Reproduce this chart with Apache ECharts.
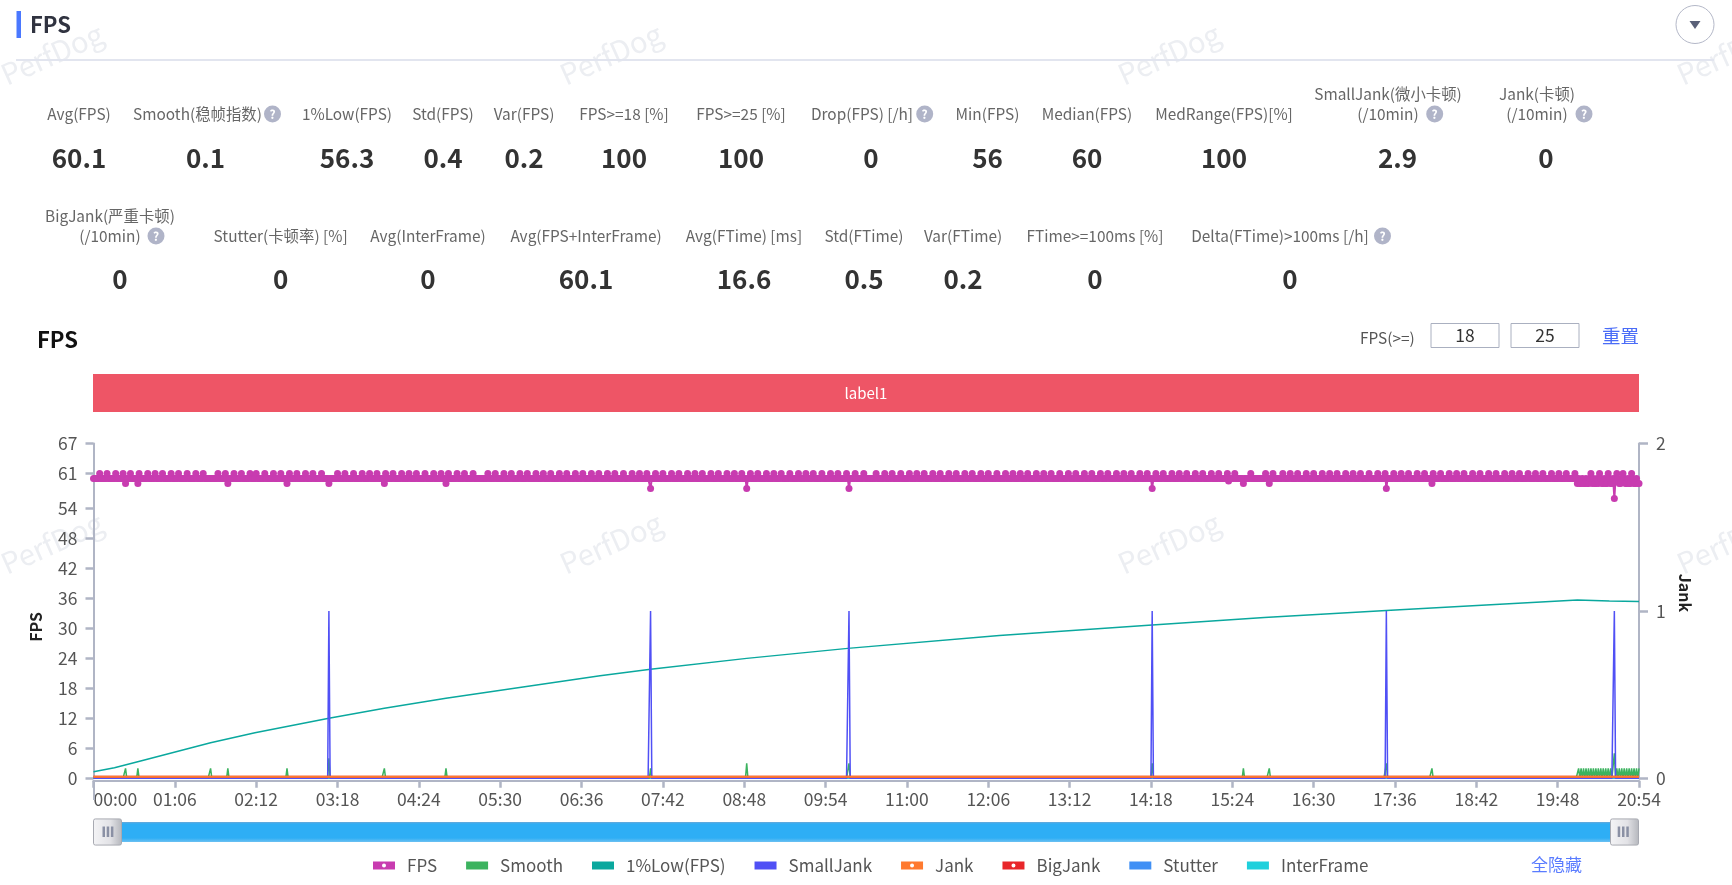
<!DOCTYPE html>
<html><head><meta charset="utf-8">
<script src="https://cdn.jsdelivr.net/npm/echarts@6/dist/echarts.min.js"></script>
<style>html,body{margin:0;padding:0;background:#fff}#c{width:1732px;height:885px}</style>
</head><body><div id="c"></div>
<script>
const FONT = '"Noto Sans CJK SC","Noto Sans",sans-serif';
// ---------- text and KPI values ----------
const kpiRow1Names = ['Avg(FPS)','Smooth(稳帧指数)','1%Low(FPS)','Std(FPS)','Var(FPS)','FPS>=18 [%]','FPS>=25 [%]','Drop(FPS) [/h]','Min(FPS)','Median(FPS)','MedRange(FPS)[%]','SmallJank(微小卡顿)\n(/10min)','Jank(卡顿)\n(/10min)'];
const kpiRow1Values = ['60.1','0.1','56.3','0.4','0.2','100','100','0','56','60','100','2.9','0'];
const kpiRow2Names = ['BigJank(严重卡顿)\n(/10min)','Stutter(卡顿率) [%]','Avg(InterFrame)','Avg(FPS+InterFrame)','Avg(FTime) [ms]','Std(FTime)','Var(FTime)','FTime>=100ms [%]','Delta(FTime)>100ms [/h]'];
const kpiRow2Values = ['0','0','0','60.1','16.6','0.5','0.2','0','0'];
const legendNames = ['FPS','Smooth','1%Low(FPS)','SmallJank','Jank','BigJank','Stutter','InterFrame'];
const xTickLabels = ['00:00','01:06','02:12','03:18','04:24','05:30','06:36','07:42','08:48','09:54','11:00','12:06','13:12','14:18','15:24','16:30','17:36','18:42','19:48','20:54'];
const fpsAxisTicks = [0,6,12,18,24,30,36,42,48,54,61,67];
const labelBarNames = ['label1'];
const labelBarValues = [1254];
// ---------- series values (x is seconds from start) ----------
const lastSecond = 1254;
const fpsTypical = 60;
const fpsPeakSeconds = [5,11,18,24,30,37,44,50,56,63,69,76,83,89,101,107,114,120,127,132,139,146,152,159,165,172,178,185,198,204,211,218,224,230,237,243,250,256,262,269,276,282,288,295,301,308,
 320,326,333,339,346,352,359,365,371,378,384,391,397,404,410,417,423,430,437,443,449,456,462,469,475,482,488,494,501,507,514,520,526,533,539,546,552,558,565,572,578,584,591,598,604,611,618,625,
 635,642,648,655,662,668,674,681,687,694,700,707,713,720,726,733,740,746,752,758,765,771,777,784,791,797,804,810,817,823,830,836,842,849,855,862,868,875,881,887,894,900,907,913,920,926,933,939,
 951,957,965,971,977,984,990,997,1003,1009,1016,1022,1028,1035,1042,1048,1055,1061,1067,1074,1080,1087,1093,1100,1106,1112,1119,1125,1132,1138,1145,1151,1157,1164,1170,1176,1183,1189,1195,1202,1215,1222,1229,1236,1241,1248];
const fpsDipSeconds = [26,36,109,157,191,236,286,452,530,613,859,921,933,954,1049,1086,1234];
const fpsDipValues  = [59,59,59,59,59,59,59,58,58,58,58,59.5,59,59,58,59,56];
const fpsTailLowSeconds = [1204,1206,1207,1209,1210,1212,1213,1216,1218,1219,1221,1224,1225,1227,1228,1231,1232,1238,1239,1243,1244,1246,1247,1250,1251,1253,1254];
const smoothSeconds = [26,36,95,109,157,191,236,286,452,530,613,859,933,954,1049,1086,1205,1207,1209,1211,1213,1215,1217,1219,1221,1223,1225,1227,1229,1231,1234,1236,1238,1240,1242,1244,1246,1248,1250,1252,1254];
const smoothValues  = [2,2,2,2,2,4,2,2,2,3,3,3,2,2,3,2,2,2,2,2,2,2,2,2,2,2,2,2,2,2,5,2,2,2,2,2,2,2,2,2,2];
const lowSeconds = [0,17,39,95,131,191,236,286,411,452,530,612,735,859,950,1049,1130,1204,1230,1254];
const lowValues  = [1.3,2.1,3.5,7.1,9.1,12.0,14.0,16.0,20.5,21.8,24.0,26.0,28.6,30.7,32.2,33.6,34.7,35.7,35.5,35.4];
const smallJankSeconds = [191,452,613,859,1049,1234];
const smallJankValues  = [1,1,1,1,1,1];
const jankSeconds = [0,1254];
const jankValues = [0.01,0.01];
const bigJankSeconds = [0,1254];
const bigJankValues = [0.01,0.01];
const stutterSeconds = [0,1254];
const stutterValues = [0,0];
const interFrameSeconds = [0,1254];
const interFrameValues = [0,0];

// ---------- tables the library needs ----------
const everySecond = Array.from({length:lastSecond+1},(_,i)=>i);
const fpsBySecond = new Map();
fpsTailLowSeconds.forEach(s=>fpsBySecond.set(s,59));
fpsPeakSeconds.forEach(s=>fpsBySecond.set(s,61));
fpsDipSeconds.forEach((s,i)=>fpsBySecond.set(s,fpsDipValues[i]));
const fpsData = everySecond.map(s=>[s,fpsBySecond.has(s)?fpsBySecond.get(s):fpsTypical]);
function spikes(secs,vals){const m=new Map(secs.map((s,i)=>[s,vals[i]]));return everySecond.map(s=>[s,m.get(s)||0]);}
const pairs=(a,b)=>a.map((s,i)=>[s,b[i]]);

// ---------- layout of the page furniture ----------
const row1LabelX=[79,197.5,347,443,524,624,741,862,987.5,1087,1224,1388,1537];
const row1ValueX=[79,205.5,347,443,524,624,741,871,987.5,1087,1224,1397.5,1546];
const row2LabelX=[110,280.6,428,586,744,864,963,1095,1280];
const row2ValueX=[120,280.6,428,586,744,864,963,1095,1290];
const helpDots=[[272.5,114],[924.7,114],[1434.7,114],[1584,114],[156,236],[1382.5,236]];
const g=[];
[52,611,1169,1728].forEach(x=>[54,543].forEach(y=>g.push({type:'text',x,y,rotation:0.42,z:0,silent:true,
  style:{text:'PerfDog',fill:'#eceef2',font:'29px '+FONT,textAlign:'center',textVerticalAlign:'middle'}})));
const txt=(text,x,y,font,fill,align)=>g.push({type:'text',x,y,z:10,style:{text,fill,font:font+' '+FONT,textAlign:align||'center',textVerticalAlign:'middle'}});
g.push({type:'rect',z:10,shape:{x:16.5,y:11,width:4.5,height:27},style:{fill:'#4a78ff'}});
txt('FPS',30,24.5,'bold 22px','#303340','left');
g.push({type:'rect',z:10,shape:{x:16,y:59,width:1698,height:2},style:{fill:'#e2e5ef'}});
g.push({type:'circle',z:10,shape:{cx:1695,cy:24.5,r:19},style:{fill:'#fff',stroke:'#b4b8c8',lineWidth:1}});
g.push({type:'polygon',z:11,shape:{points:[[1689.5,21],[1700.5,21],[1695,29]]},style:{fill:'#5a6078'}});
function kpi(names,vals,lx,vx,ly,vy){names.forEach((n,i)=>{const p=n.split('\n');
  if(p.length===2){txt(p[0],lx[i],ly-20,'15.4px','#666');txt(p[1],lx[i],ly,'15.4px','#666');}
  else txt(n,lx[i],ly,'15.4px','#666');
  txt(vals[i],vx[i],vy,'bold 26px','#333');});}
kpi(kpiRow1Names,kpiRow1Values,row1LabelX,row1ValueX,113.7,158);
kpi(kpiRow2Names,kpiRow2Values,row2LabelX,row2ValueX,235.7,279.3);
helpDots.forEach(([x,y])=>{g.push({type:'circle',z:10,shape:{cx:x,cy:y,r:8.5},style:{fill:'#b0b4c8'}});
  txt('?',x,y,'bold 12px','#fff');});
txt('FPS',37,340,'bold 22px','#111','left');
txt('FPS(>=)',1360,338,'15.4px','#555','left');
[[1431,'18'],[1511,'25']].forEach(([x,t])=>{g.push({type:'rect',z:10,shape:{x,y:323.5,width:68,height:24},style:{fill:'#fff',stroke:'#aab0c0',lineWidth:1}});
  txt(t,x+34,335.5,'17.5px','#333');});
txt('重置',1602,336,'18.5px','#4a6cf7','left');
txt('全隐藏',1531,865,'17px','#5a7cff','left');
g.push({type:'rect',z:10,shape:{x:93,y:781,width:2,height:19},style:{fill:'#b0b5c5'}});
[102.5,106.7,110.9,1617.7,1622,1626.3].forEach(x=>g.push({type:'rect',z:100,shape:{x,y:826.5,width:2.5,height:10.5},style:{fill:'#8a90a4'}}));

const symIcon=()=>'path://M0 0H22V8H0ZM9 4A2 2 0 0 0 13 4A2 2 0 0 0 9 4Z';
const C={fps:'#c83cb0',smooth:'#3cb35f',low:'#0aa89e',small:'#5050f5',jank:'#ff7a2f',big:'#e8262a',stutter:'#4090f5',inter:'#1fd0dc'};
const line=(name,data,color,yIdx,extra)=>Object.assign({type:'line',name,data,xAxisIndex:0,yAxisIndex:yIdx,showSymbol:false,symbol:'none',
  lineStyle:{color,width:1.5},itemStyle:{color},animation:false,silent:true},extra||{});
const axisGrey={color:'#b0b5c5',width:2};
const tickGrey={color:'#b0b5c5',width:2.5};

const chart=echarts.init(document.getElementById('c'),null,{width:1732,height:885});
chart.setOption({
  animation:false,backgroundColor:'#fff',
  textStyle:{fontFamily:FONT},
  graphic:{elements:g},
  grid:[{left:93.5,right:93,top:443.5,height:334.8,containLabel:false},{left:93,right:93,top:374,height:38}],
  legend:{left:368,top:852,itemWidth:22,itemHeight:8,itemGap:29,
    textStyle:{fontSize:17,color:'#555',padding:[0,0,3,7],fontFamily:FONT},
    data:[{name:legendNames[0],icon:symIcon()},{name:legendNames[1],icon:'rect'},{name:legendNames[2],icon:'rect'},{name:legendNames[3],icon:'rect'},{name:legendNames[4],icon:symIcon()},{name:legendNames[5],icon:symIcon()},{name:legendNames[6],icon:'rect'},{name:legendNames[7],icon:'rect'}]},
  xAxis:[{type:'value',gridIndex:0,min:0,max:lastSecond,interval:66,offset:2.5,
      axisLine:{onZero:false,lineStyle:axisGrey},axisTick:{show:true,length:7,lineStyle:tickGrey},splitLine:{show:false},
      axisLabel:{color:'#555',fontSize:17.5,margin:10,alignMinLabel:'left',showMinLabel:true,showMaxLabel:true,formatter:v=>xTickLabels[Math.round(v/66)],fontFamily:FONT}},
    {type:'value',gridIndex:1,min:0,max:lastSecond,show:false}],
  yAxis:[{type:'value',gridIndex:0,min:0,max:67,name:'FPS',nameLocation:'middle',nameGap:50,nameRotate:90,
      nameTextStyle:{fontSize:16,fontWeight:'bold',color:'#222',padding:[0,32,0,0],fontFamily:FONT},
      axisLine:{show:true,lineStyle:axisGrey},axisTick:{show:true,length:8,customValues:fpsAxisTicks,lineStyle:tickGrey},splitLine:{show:false},
      axisLabel:{color:'#555',fontSize:17.5,margin:16,padding:[0,0,3,0],customValues:fpsAxisTicks,fontFamily:FONT}},
    {type:'value',gridIndex:0,min:0,max:2,interval:1,position:'right',name:'Jank',nameLocation:'middle',nameGap:38,nameRotate:-90,
      nameTextStyle:{fontSize:16,fontWeight:'bold',color:'#222',padding:[0,36,0,0],fontFamily:FONT},
      axisLine:{show:true,lineStyle:axisGrey},axisTick:{show:true,length:9,lineStyle:tickGrey},splitLine:{show:false},
      axisLabel:{color:'#555',fontSize:17.5,margin:17,padding:[0,0,3,0],fontFamily:FONT}},
    {type:'category',gridIndex:1,data:labelBarNames,show:false}],
  dataZoom:[{type:'slider',xAxisIndex:0,filterMode:'none',start:0,end:100,left:105,width:1519,top:822,height:20,
    showDetail:false,showDataShadow:false,brushSelect:false,moveHandleSize:0,backgroundColor:'transparent',borderColor:'transparent',
    fillerColor:new echarts.graphic.LinearGradient(0,0,0,1,[{offset:0,color:'#6cc0f2'},{offset:0.2,color:'#2eaef5'},{offset:0.9,color:'#2eaef5'},{offset:1,color:'#6aa8d8'}]),
    handleIcon:'path://M2 0H28A2 2 0 0 1 30 2V26A2 2 0 0 1 28 28H2A2 2 0 0 1 0 26V2A2 2 0 0 1 2 0Z',handleSize:28,
    handleStyle:{color:new echarts.graphic.LinearGradient(0,0,1,0,[{offset:0,color:'#f4f4f6'},{offset:0.6,color:'#e2e2e6'},{offset:1,color:'#b4b6bc'}]),borderColor:'#a8aab2',borderWidth:1,shadowBlur:0}}],
  series:[
    line('InterFrame',pairs(interFrameSeconds,interFrameValues),C.inter,0),
    line('Stutter',pairs(stutterSeconds,stutterValues),C.stutter,0,{lineStyle:{color:C.stutter,width:1}}),
    line('FPS',fpsData,C.fps,0,{showSymbol:true,showAllSymbol:true,symbol:'circle',symbolSize:7,lineStyle:{color:C.fps,width:2}}),
    line('Smooth',spikes(smoothSeconds,smoothValues),C.smooth,0),
    line('1%Low(FPS)',pairs(lowSeconds,lowValues),C.low,0),
    line('SmallJank',spikes(smallJankSeconds,smallJankValues),C.small,1),
    line('BigJank',pairs(bigJankSeconds,bigJankValues),C.big,1,{lineStyle:{color:C.big,width:2}}),
    line('Jank',pairs(jankSeconds,jankValues),C.jank,1,{lineStyle:{color:C.jank,width:2}}),
    {type:'bar',xAxisIndex:1,yAxisIndex:2,data:labelBarValues,barWidth:'100%',silent:true,animation:false,itemStyle:{color:'#ee5566'},
      label:{show:true,position:'inside',formatter:'{b}',color:'#fff',fontSize:15,fontFamily:FONT}}
  ]
});
</script></body></html>
